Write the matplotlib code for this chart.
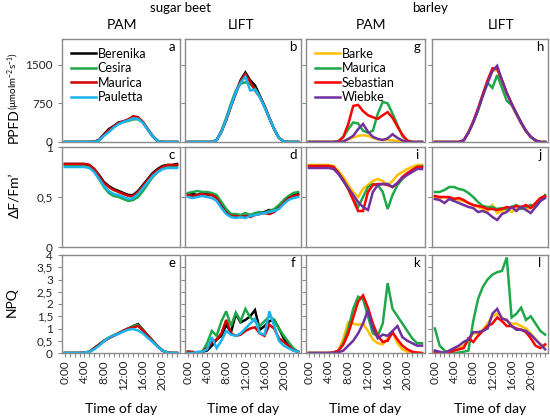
import numpy as np
import matplotlib
matplotlib.use("Agg")
from matplotlib import pyplot as plt
from matplotlib.ticker import FixedLocator

plt.rcParams['font.family'] = ['Lato', 'DejaVu Sans']
plt.rcParams['mathtext.default'] = 'regular'

hours = np.arange(24)
hour_labels = ['0:00', '4:00', '8:00', '12:00', '16:00', '20:00']

sb_names = ['Berenika', 'Cesira', 'Maurica', 'Pauletta']
sb_colors = ['#000000', '#1fa84a', '#d20000', '#19b4f0']
ba_names = ['Barke', 'Maurica', 'Sebastian', 'Wiebke']
ba_colors = ['#ffc000', '#1fa84a', '#ff0000', '#7030a0']

# PPFD (umol m-2 s-1)
ppfd_sb_pam = {
    'Berenika': [0, 0, 0, 0, 0, 0, 5, 40, 150, 250, 310, 380, 400, 430, 490, 470, 380, 240, 110, 20, 0, 0, 0, 0],
    'Cesira':   [0, 0, 0, 0, 0, 0, 5, 35, 130, 220, 290, 350, 390, 410, 440, 440, 380, 250, 120, 25, 0, 0, 0, 0],
    'Maurica':  [0, 0, 0, 0, 0, 0, 5, 35, 140, 230, 300, 370, 400, 440, 500, 480, 390, 250, 115, 20, 0, 0, 0, 0],
    'Pauletta': [0, 0, 0, 0, 0, 0, 3, 30, 120, 190, 280, 350, 390, 420, 460, 450, 370, 240, 110, 20, 0, 0, 0, 0],
}
ppfd_sb_lift = {
    'Berenika': [0, 0, 0, 0, 0, 0, 40, 200, 430, 700, 950, 1200, 1350, 1200, 1100, 900, 700, 470, 250, 80, 10, 0, 0, 0],
    'Cesira':   [0, 0, 0, 0, 0, 0, 40, 220, 470, 750, 1000, 1130, 1160, 1130, 1040, 880, 680, 460, 250, 80, 10, 0, 0, 0],
    'Maurica':  [0, 0, 0, 0, 0, 0, 35, 200, 430, 700, 950, 1180, 1320, 1170, 1000, 880, 690, 460, 250, 80, 10, 0, 0, 0],
    'Pauletta': [0, 0, 0, 0, 0, 0, 35, 200, 440, 710, 960, 1150, 1270, 1000, 1020, 870, 680, 460, 250, 80, 10, 0, 0, 0],
}
ppfd_ba_pam = {
    'Barke':     [0, 0, 0, 0, 0, 0, 0, 20, 50, 90, 120, 130, 120, 80, 50, 40, 40, 30, 20, 5, 0, 0, 0, 0],
    'Maurica':   [0, 0, 0, 0, 0, 0, 20, 100, 250, 380, 360, 220, 180, 220, 550, 780, 750, 550, 330, 120, 20, 0, 0, 0],
    'Sebastian': [0, 0, 0, 0, 0, 0, 10, 100, 350, 700, 720, 600, 520, 480, 450, 520, 580, 470, 300, 140, 30, 0, 0, 0],
    'Wiebke':    [0, 0, 0, 0, 0, 0, 0, 10, 60, 120, 250, 350, 200, 100, 60, 40, 70, 150, 80, 30, 0, 0, 0, 0],
}
ppfd_ba_lift = {
    'Barke':     [0, 0, 0, 0, 0, 0, 30, 180, 380, 620, 900, 1150, 1380, 1400, 1200, 950, 750, 560, 380, 220, 100, 30, 0, 0],
    'Maurica':   [0, 0, 0, 0, 0, 0, 30, 180, 380, 620, 900, 1150, 1050, 1300, 1050, 800, 720, 540, 370, 210, 100, 30, 0, 0],
    'Sebastian': [0, 0, 0, 0, 0, 0, 30, 190, 400, 650, 930, 1200, 1430, 1420, 1200, 950, 740, 550, 370, 210, 100, 30, 0, 0],
    'Wiebke':    [0, 0, 0, 0, 0, 0, 30, 180, 380, 620, 900, 1150, 1380, 1480, 1200, 950, 750, 560, 380, 220, 100, 30, 0, 0],
}

# dF/Fm'
yield_sb_pam = {
    'Berenika': [0.83, 0.83, 0.83, 0.83, 0.83, 0.82, 0.78, 0.72, 0.65, 0.61, 0.58, 0.56, 0.54, 0.52, 0.52, 0.56, 0.62, 0.68, 0.74, 0.78, 0.81, 0.82, 0.82, 0.83],
    'Cesira':   [0.81, 0.81, 0.81, 0.81, 0.81, 0.80, 0.76, 0.68, 0.60, 0.54, 0.51, 0.50, 0.48, 0.46, 0.47, 0.50, 0.56, 0.63, 0.70, 0.75, 0.78, 0.80, 0.81, 0.81],
    'Maurica':  [0.83, 0.83, 0.83, 0.83, 0.83, 0.82, 0.78, 0.71, 0.64, 0.60, 0.57, 0.55, 0.53, 0.51, 0.51, 0.55, 0.61, 0.67, 0.73, 0.77, 0.80, 0.82, 0.82, 0.82],
    'Pauletta': [0.80, 0.80, 0.80, 0.80, 0.80, 0.79, 0.75, 0.68, 0.61, 0.56, 0.53, 0.52, 0.50, 0.48, 0.49, 0.53, 0.59, 0.65, 0.71, 0.75, 0.78, 0.79, 0.79, 0.79],
}
yield_sb_lift = {
    'Berenika': [0.53, 0.53, 0.52, 0.54, 0.53, 0.53, 0.50, 0.42, 0.36, 0.32, 0.31, 0.30, 0.31, 0.32, 0.33, 0.34, 0.35, 0.37, 0.36, 0.40, 0.45, 0.49, 0.52, 0.53],
    'Cesira':   [0.54, 0.55, 0.56, 0.55, 0.55, 0.54, 0.52, 0.45, 0.38, 0.33, 0.33, 0.32, 0.34, 0.32, 0.34, 0.35, 0.34, 0.36, 0.38, 0.42, 0.47, 0.51, 0.54, 0.55],
    'Maurica':  [0.52, 0.51, 0.52, 0.53, 0.52, 0.52, 0.49, 0.40, 0.34, 0.31, 0.31, 0.30, 0.31, 0.30, 0.32, 0.33, 0.34, 0.33, 0.35, 0.39, 0.44, 0.49, 0.51, 0.52],
    'Pauletta': [0.50, 0.49, 0.50, 0.51, 0.50, 0.49, 0.46, 0.39, 0.33, 0.30, 0.29, 0.30, 0.29, 0.31, 0.32, 0.33, 0.34, 0.35, 0.36, 0.38, 0.43, 0.47, 0.49, 0.50],
}
yield_ba_pam = {
    'Barke':     [0.82, 0.82, 0.82, 0.82, 0.82, 0.81, 0.76, 0.70, 0.62, 0.55, 0.50, 0.58, 0.62, 0.66, 0.68, 0.66, 0.62, 0.66, 0.72, 0.75, 0.78, 0.80, 0.82, 0.82],
    'Maurica':   [0.81, 0.81, 0.81, 0.81, 0.81, 0.80, 0.74, 0.66, 0.58, 0.48, 0.40, 0.50, 0.60, 0.63, 0.62, 0.55, 0.38, 0.52, 0.62, 0.68, 0.73, 0.77, 0.80, 0.81],
    'Sebastian': [0.81, 0.81, 0.81, 0.81, 0.81, 0.80, 0.74, 0.67, 0.58, 0.47, 0.36, 0.36, 0.55, 0.62, 0.63, 0.63, 0.62, 0.60, 0.64, 0.70, 0.74, 0.77, 0.80, 0.80],
    'Wiebke':    [0.79, 0.79, 0.79, 0.79, 0.79, 0.78, 0.73, 0.66, 0.59, 0.52, 0.45, 0.40, 0.37, 0.55, 0.62, 0.63, 0.63, 0.60, 0.64, 0.69, 0.72, 0.75, 0.78, 0.78],
}
yield_ba_lift = {
    'Barke':     [0.50, 0.49, 0.50, 0.48, 0.49, 0.47, 0.46, 0.44, 0.42, 0.40, 0.38, 0.36, 0.42, 0.34, 0.36, 0.38, 0.35, 0.38, 0.40, 0.38, 0.39, 0.42, 0.47, 0.50],
    'Maurica':   [0.55, 0.55, 0.57, 0.60, 0.60, 0.58, 0.57, 0.54, 0.50, 0.45, 0.41, 0.40, 0.40, 0.38, 0.39, 0.38, 0.40, 0.42, 0.38, 0.40, 0.42, 0.40, 0.46, 0.52],
    'Sebastian': [0.51, 0.50, 0.50, 0.50, 0.48, 0.49, 0.47, 0.44, 0.42, 0.41, 0.40, 0.38, 0.38, 0.37, 0.38, 0.40, 0.39, 0.41, 0.40, 0.42, 0.39, 0.44, 0.49, 0.51],
    'Wiebke':    [0.48, 0.47, 0.44, 0.48, 0.46, 0.44, 0.42, 0.40, 0.39, 0.35, 0.36, 0.34, 0.30, 0.27, 0.33, 0.35, 0.40, 0.36, 0.40, 0.37, 0.34, 0.40, 0.46, 0.49],
}

# NPQ
npq_sb_pam = {
    'Berenika': [0, 0, 0, 0, 0.02, 0.05, 0.2, 0.35, 0.5, 0.62, 0.72, 0.8, 0.9, 1.0, 1.1, 1.18, 0.95, 0.72, 0.5, 0.28, 0.1, 0.02, 0, 0],
    'Cesira':   [0, 0, 0, 0, 0.02, 0.05, 0.18, 0.33, 0.5, 0.63, 0.72, 0.8, 0.9, 1.0, 1.1, 1.15, 0.93, 0.7, 0.48, 0.27, 0.1, 0.02, 0, 0],
    'Maurica':  [0, 0, 0, 0, 0.02, 0.04, 0.18, 0.33, 0.48, 0.6, 0.7, 0.8, 0.92, 1.0, 1.05, 1.1, 0.92, 0.7, 0.48, 0.27, 0.1, 0.02, 0, 0],
    'Pauletta': [0, 0, 0, 0, 0.02, 0.04, 0.15, 0.3, 0.48, 0.62, 0.72, 0.78, 0.88, 0.95, 0.98, 0.92, 0.8, 0.62, 0.45, 0.26, 0.1, 0.02, 0, 0],
}
npq_sb_lift = {
    'Berenika': [0.05, 0.02, 0.0, 0.05, 0.1, 0.3, 0.55, 0.7, 1.15, 0.85, 1.6, 1.25, 1.35, 1.5, 1.75, 0.95, 1.1, 1.3, 1.35, 1.0, 0.6, 0.35, 0.15, 0.05],
    'Cesira':   [0.05, 0.02, 0.02, 0.05, 0.4, 0.9, 0.7, 1.3, 1.7, 1.1, 1.65, 1.3, 1.8, 1.45, 1.3, 1.1, 1.3, 1.5, 1.35, 1.0, 0.7, 0.45, 0.2, 0.05],
    'Maurica':  [0.05, 0.05, 0.0, 0.05, 0.2, 0.45, 0.55, 0.8, 1.35, 0.8, 0.7, 0.75, 0.9, 1.0, 1.05, 0.8, 0.7, 1.15, 1.0, 0.6, 0.45, 0.3, 0.1, 0.05],
    'Pauletta': [0.0, 0.0, 0.05, 0.05, 0.15, 0.65, 0.2, 0.5, 0.9, 0.75, 0.7, 0.8, 1.0, 1.2, 1.4, 0.8, 0.75, 1.7, 1.1, 0.5, 0.3, 0.2, 0.1, 0.05],
}
npq_ba_pam = {
    'Barke':     [0, 0, 0, 0, 0, 0, 0.1, 0.6, 1.25, 1.2, 1.15, 1.2, 0.9, 0.55, 0.4, 0.35, 0.6, 0.85, 0.4, 0.15, 0.05, 0.02, 0, 0],
    'Maurica':   [0, 0, 0, 0, 0, 0.02, 0.1, 0.4, 1.0, 1.8, 2.3, 2.2, 1.5, 0.8, 0.7, 1.2, 2.85, 1.8, 1.5, 1.2, 0.9, 0.6, 0.4, 0.4],
    'Sebastian': [0, 0, 0, 0, 0, 0.02, 0.1, 0.35, 0.8, 1.45, 2.1, 2.35, 1.85, 1.2, 0.7, 0.45, 0.5, 0.85, 0.55, 0.3, 0.15, 0.05, 0.02, 0],
    'Wiebke':    [0, 0, 0, 0, 0, 0, 0.02, 0.1, 0.3, 0.5, 0.8, 1.2, 1.75, 1.0, 0.6, 0.75, 0.7, 0.9, 1.1, 0.65, 0.5, 0.4, 0.3, 0.3],
}
npq_ba_lift = {
    'Barke':     [0.05, 0.0, 0.0, 0.0, 0.1, 0.2, 0.3, 0.45, 0.8, 0.8, 0.95, 1.2, 1.5, 1.6, 1.45, 1.3, 1.2, 1.2, 1.1, 1.0, 0.8, 0.55, 0.35, 0.3],
    'Maurica':   [1.0, 0.3, 0.1, 0.0, 0.0, 0.02, 0.05, 0.1, 1.3, 2.2, 2.7, 3.0, 3.2, 3.3, 3.35, 3.9, 1.45, 1.6, 1.85, 1.35, 1.5, 1.2, 0.9, 0.75],
    'Sebastian': [0.05, 0.02, 0.0, 0.0, 0.1, 0.15, 0.2, 0.6, 0.45, 0.7, 0.9, 1.1, 1.2, 1.45, 1.3, 1.1, 1.1, 1.0, 0.95, 0.85, 0.6, 0.3, 0.2, 0.35],
    'Wiebke':    [0.1, 0.05, 0.0, 0.1, 0.2, 0.3, 0.45, 0.55, 0.85, 0.85, 0.9, 1.0, 1.6, 1.8, 1.4, 1.35, 1.1, 0.95, 0.95, 0.9, 0.75, 0.55, 0.35, 0.15],
}

W, H = 550, 418
fig = plt.figure(figsize=(W / 100, H / 100), dpi=100)

cols = [(62, 180), (185, 301), (306, 425), (432, 548)]
rows = [(39, 142), (147, 247), (255, 353)]

grid = [
    [ppfd_sb_pam, ppfd_sb_lift, ppfd_ba_pam, ppfd_ba_lift],
    [yield_sb_pam, yield_sb_lift, yield_ba_pam, yield_ba_lift],
    [npq_sb_pam, npq_sb_lift, npq_ba_pam, npq_ba_lift],
]
letters = ['abgh', 'cdij', 'efkl']
spine_col = '#8a8a8a'
npq_ticks = np.arange(0, 4.01, 0.5)
npq_labels = ['0', '0,5', '1', '1,5', '2', '2,5', '3', '3,5', '4']

for r, (top, bot) in enumerate(rows):
    for c, (lft, rgt) in enumerate(cols):
        ax = fig.add_axes([lft / W, 1 - bot / H, (rgt - lft) / W, (bot - top) / H])
        data = grid[r][c]
        names = sb_names if c < 2 else ba_names
        colors = sb_colors if c < 2 else ba_colors
        for name, col in zip(names, colors):
            ax.plot(hours, data[name], color=col, lw=1.8, label=name,
                    solid_joinstyle='miter')
        ax.set_xlim(-0.6, 23.6)
        for s in ax.spines.values():
            s.set_color(spine_col)
            s.set_linewidth(1.0)
        ax.tick_params(colors=spine_col, labelcolor='#222222', labelsize=8.5,
                       direction='out', length=3, width=0.8)
        if r == 0:
            ax.set_yticks([0, 750, 1500])
            ax.set_yticklabels(['0', '750', '1500'])
            ax.set_ylim(0, 2000)
        elif r == 1:
            ax.set_yticks([0, 0.5, 1])
            ax.set_yticklabels(['0', '0,5', '1'])
            ax.set_ylim(0, 1)
        else:
            ax.set_yticks(npq_ticks)
            ax.set_yticklabels(npq_labels)
            ax.set_ylim(0, 4)
        if c > 0:
            ax.tick_params(axis='y', labelleft=False)
        if r < 2:
            ax.set_xticks([])
        else:
            ax.set_xticks(np.arange(0, 24, 4))
            ax.set_xticklabels(hour_labels, rotation=90)
            ax.xaxis.set_minor_locator(FixedLocator(np.arange(0, 25, 1)))
            ax.tick_params(axis='x', which='minor', length=3, width=0.8, colors=spine_col)
            ax.tick_params(axis='x', which='major', pad=2)
            fig.text((lft + rgt) / 2 / W, 1 - 409 / H, 'Time of day', ha='center',
                     va='center', fontsize=10)
        ax.text(0.93, 0.92, letters[r][c], transform=ax.transAxes, ha='center',
                va='center', fontsize=9.5)
        if r == 0 and c in (0, 2):
            ax.legend(loc='upper left', bbox_to_anchor=(0.0, 1.0), frameon=False,
                      fontsize=9, handlelength=2.0, handletextpad=0.15,
                      labelspacing=0.2, borderaxespad=0.4, borderpad=0.3)

fig.text(181 / W, 1 - 8 / H, 'sugar beet', ha='center', va='center', fontsize=9.5)
fig.text(430 / W, 1 - 8 / H, 'barley', ha='center', va='center', fontsize=9.5)
for x, t in [(122, 'PAM'), (241, 'LIFT'), (371, 'PAM'), (501, 'LIFT')]:
    fig.text(x / W, 1 - 25 / H, t, ha='center', va='center', fontsize=10)

fig.text(14 / W, 1 - 126 / H, 'PPFD', rotation=90, ha='center', va='center', fontsize=10)
fig.text(14 / W, 1 - 81 / H, r'(µmolm$^{-2}$s$^{-1}$)', rotation=90, ha='center',
         va='center', fontsize=7)
fig.text(14 / W, 1 - 195 / H, 'ΔF/Fm’', rotation=90, ha='center', va='center', fontsize=10)
fig.text(12 / W, 1 - 302 / H, 'NPQ', rotation=90, ha='center', va='center', fontsize=10)

fig.savefig('out.png', dpi=100)
